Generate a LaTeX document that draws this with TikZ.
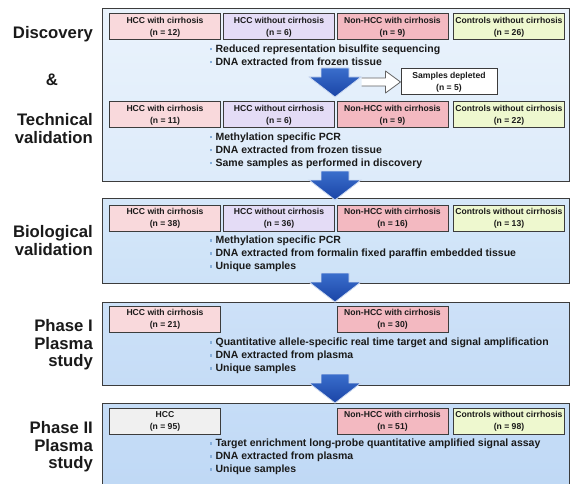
\documentclass[tikz,border=0pt]{standalone}
\usepackage{fontspec}
\setmainfont{Liberation Sans}
\usepackage{tikz}
\usetikzlibrary{positioning,calc}

\definecolor{hccpink}{HTML}{F9D9DC}
\definecolor{hcclila}{HTML}{E4DCF6}
\definecolor{nonpink}{HTML}{F3B9C1}
\definecolor{ctrlgreen}{HTML}{EEF8CF}
\definecolor{hccgray}{HTML}{F0F0F0}
\definecolor{arrdark}{HTML}{1A44A6}
\definecolor{arrlight}{HTML}{3A6ECC}
\definecolor{bulblue}{HTML}{86AEDB}
\definecolor{edge}{HTML}{3C3C3C}
\definecolor{ink}{HTML}{1A1A1A}
\definecolor{pa}{HTML}{EAF3FC}
\definecolor{pb}{HTML}{DDEBFA}
\definecolor{pc}{HTML}{D5E7F9}
\definecolor{pd}{HTML}{CDE2F8}
\definecolor{pe}{HTML}{CDE1F8}
\definecolor{pf}{HTML}{C5DCF6}
\definecolor{pg}{HTML}{C6DDF7}
\definecolor{ph}{HTML}{BFD8F5}

\newcommand{\bul}{\textcolor{bulblue}{\rule[0.22em]{2.4pt}{2.4pt}}\hspace{3.5pt}}
% big downward arrow, #1 = name of its tip, #2 = tip position
\newcommand{\flowarrow}[2]{
  \coordinate (#1) at #2;
  \path [bigarrow] ($(#1)+(-14,-29)$) -- ($(#1)+(14,-29)$) -- ($(#1)+(14,-20)$)
    -- ($(#1)+(26,-20)$) -- (#1) -- ($(#1)+(-26,-20)$) -- ($(#1)+(-14,-20)$) -- cycle;
}

\tikzset{
  panel/.style args={#1,#2}{
  draw=edge,
  line width=1.3pt,
  top color=#1,
  bottom color=#2,
  anchor=north west,
  minimum width=467,
  inner sep=0pt,
  },
  grp/.style={draw=edge,line width=1pt,minimum width=111,minimum height=26,
   inner sep=0pt,align=center,text=ink,font=\fontsize{8.6}{12}\selectfont\bfseries},
  hccc/.style={grp,fill=hccpink},
  hccn/.style={grp,fill=hcclila},
  nonc/.style={grp,fill=nonpink},
  ctrl/.style={grp,fill=ctrlgreen},
  hccall/.style={grp,fill=hccgray},
  stage/.style={anchor=east,align=right,inner sep=0pt,text=ink,
   font=\fontsize{16.7}{17.5}\selectfont\bfseries},
  notes/.style={anchor=north west,align=left,inner sep=0pt,text=ink,
   font=\fontsize{10.5}{13}\selectfont\bfseries},
  bigarrow/.style={
    top color=arrlight,
    bottom color=arrdark,
    draw=white!75!arrlight,
    line width=0.8pt,
    line join=miter
  },
  openarrow/.style={draw=edge!80,line width=0.8pt,fill=white,line join=round}
}

\begin{document}
\begin{tikzpicture}[x=1pt,y=-1pt]
    \useasboundingbox[fill=white] (0,0) rectangle (570,484);
    % panels
    \node [panel={pa,pb},minimum height=173] (p1) at (102,8) {};
    \node [panel={pc,pd},minimum height=85] (p2) at (102,198) {};
    \node [panel={pe,pf},minimum height=83] (p3) at (102,302) {};
    \node [panel={pg,ph},minimum height=92] (p4) at (102,403) {};
    % stage labels
    \node [stage] (sdisc) at (93,34.5) {Discovery};
    \node [stage,anchor=center] (samp) at (52,80) {\&};
    \node [stage] (stech) at (93,128.5) {Technical\\validation};
    \node [stage] (sbio) at (93,240.5) {Biological\\validation};
    \node [stage] (sph1) at (93,345) {Phase I\\Plasma\\study};
    \node [stage] (sph2) at (93,447) {Phase II\\Plasma\\study};
    % discovery
    \node [hccc] (disc1) at (165,27) {HCC with cirrhosis\\(n = 12)};
    \node [hccn] (disc2) at (279,27) {HCC without cirrhosis\\(n = 6)};
    \node [nonc] (disc3) at (392.5,27) {Non-HCC with cirrhosis\\(n = 9)};
    \node [ctrl] (disc4) at (509,27) {Controls without cirrhosis\\(n = 26)};
    \node [notes] (ndisc) at (209.5,45) {\bul Reduced representation bisulfite sequencing\\
      \bul DNA extracted from frozen tissue};
    \flowarrow{a1}{(335,97)}
    \node [grp,fill=white,minimum width=96] (dep) at (449,82) {Samples depleted\\(n = 5)};
    \draw [openarrow] ($(dep.west)+(-39,-4)$) -- ($(dep.west)+(-15,-4)$) -- ($(dep.west)+(-15,-11)$)
      -- (dep.west) -- ($(dep.west)+(-15,11)$) -- ($(dep.west)+(-15,4)$) -- ($(dep.west)+(-39,4)$);
    % technical validation
    \node [hccc] (tech1) at (165,115) {HCC with cirrhosis\\(n = 11)};
    \node [hccn] (tech2) at (279,115) {HCC without cirrhosis\\(n = 6)};
    \node [nonc] (tech3) at (392.5,115) {Non-HCC with cirrhosis\\(n = 9)};
    \node [ctrl] (tech4) at (509,115) {Controls without cirrhosis\\(n = 22)};
    \node [notes] (ntech) at (209.5,133) {\bul Methylation specific PCR\\
      \bul DNA extracted from frozen tissue\\
      \bul Same samples as performed in discovery};
    \flowarrow{a2}{(335,200)}
    % biological validation
    \node [hccc] (bio1) at (165,218) {HCC with cirrhosis\\(n = 38)};
    \node [hccn] (bio2) at (279,218) {HCC without cirrhosis\\(n = 36)};
    \node [nonc] (bio3) at (392.5,218) {Non-HCC with cirrhosis\\(n = 16)};
    \node [ctrl] (bio4) at (509,218) {Controls without cirrhosis\\(n = 13)};
    \node [notes] (nbio) at (209.5,236) {\bul Methylation specific PCR\\
      \bul DNA extracted from formalin fixed paraffin embedded tissue\\
      \bul Unique samples};
    \flowarrow{a3}{(335,302)}
    % phase I
    \node [hccc] (ph1a) at (165,319) {HCC with cirrhosis\\(n = 21)};
    \node [nonc] (ph1c) at (392.5,319) {Non-HCC with cirrhosis\\(n = 30)};
    \node [notes] (nph1) at (209.5,338) {\bul Quantitative allele-specific real time target and signal amplification\\
      \bul DNA extracted from plasma\\
      \bul Unique samples};
    \flowarrow{a4}{(335,403)}
    % phase II
    \node [hccall] (ph2a) at (165,421) {HCC\\(n = 95)};
    \node [nonc] (ph2c) at (392.5,421) {Non-HCC with cirrhosis\\(n = 51)};
    \node [ctrl] (ph2d) at (509,421) {Controls without cirrhosis\\(n = 98)};
    \node [notes] (nph2) at (209.5,439) {\bul Target enrichment long-probe quantitative amplified signal assay\\
      \bul DNA extracted from plasma\\
      \bul Unique samples};
\end{tikzpicture}
\end{document}
